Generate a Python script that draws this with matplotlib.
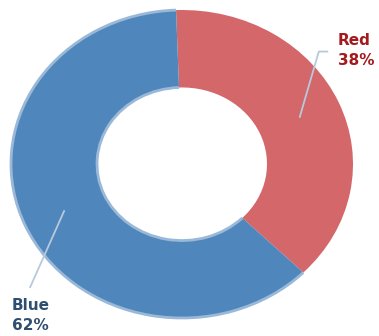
import numpy as np
import matplotlib
matplotlib.use("Agg")
import matplotlib.pyplot as plt
from matplotlib.patches import Arc

labels = ["Red", "Blue"]
values = [38, 62]
colors = ["#d3676a", "#4f86bb"]
text_colors = ["#a3191c", "#2e4f70"]

W, H = 379, 336
cx, cy = 182, 164          # pixel centre (from top-left)
rx, ry = 171, 154          # pixel radii
start = 92

fig = plt.figure(figsize=(W / 100, H / 100), dpi=100)
ax = fig.add_axes([0, 0, 1, 1])

hole = 0.497
wedges, _ = ax.pie(values, colors=colors, startangle=start, counterclock=False,
                   radius=1.0, wedgeprops=dict(width=1 - hole, linewidth=0))

ax.set_aspect("auto")
ax.set_xlim(-cx / rx, (W - cx) / rx)
ax.set_ylim(-(H - cy) / ry, cy / ry)
ax.axis("off")

# light rim on the blue wedge
b = wedges[1]
edge = "#9ab8d8"
for r in (1.0, hole):
    ax.add_patch(Arc((0, 0), 2 * r, 2 * r, theta1=b.theta1, theta2=b.theta2,
                     color=edge, lw=2.0, zorder=3))

# labels with leader lines
total = sum(values)
line_col = "#b9c9dc"
layout = {
    "Red": dict(p1=(0.80, 0.73), p2=(0.855, 0.73), txt=(0.91, 0.735), ha="left"),
    "Blue": dict(p1=(-0.89, -0.805), p2=None, txt=(-0.995, -0.985), ha="left"),
}
for w, lab, val, tc in zip(wedges, labels, values, text_colors):
    mid = np.deg2rad((w.theta1 + w.theta2) / 2)
    p0 = (0.75 * np.cos(mid), 0.75 * np.sin(mid))
    L = layout[lab]
    xs = [p0[0], L["p1"][0]]
    ys = [p0[1], L["p1"][1]]
    if L["p2"] is not None:
        xs.append(L["p2"][0]); ys.append(L["p2"][1])
    ax.plot(xs, ys, color=line_col, lw=1.3, zorder=4, solid_capstyle="butt")
    ax.text(L["txt"][0], L["txt"][1], f"{lab}\n{round(100 * val / total)}%",
            ha=L["ha"], va="center", fontsize=11, fontweight="bold",
            color=tc, linespacing=1.4, family="DejaVu Sans")

fig.savefig("out.png", dpi=100)
